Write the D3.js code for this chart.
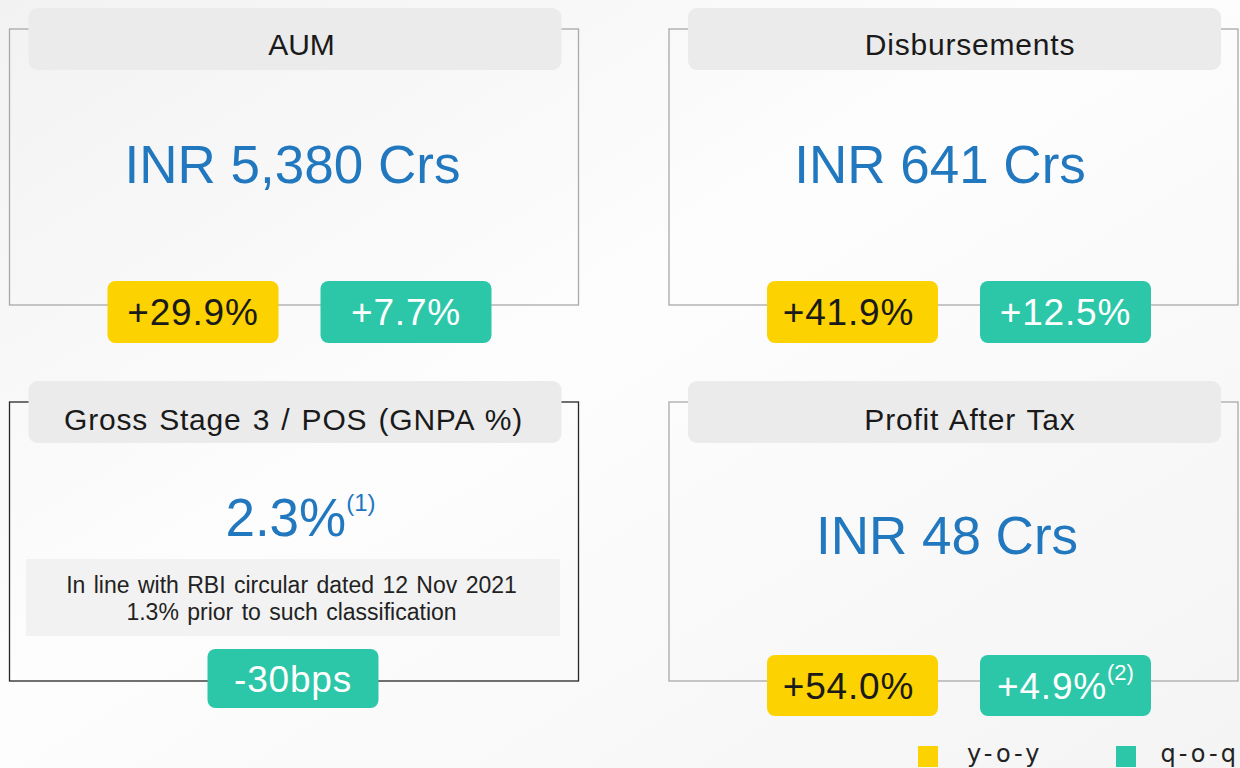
<!DOCTYPE html>
<html>
<head>
<meta charset="utf-8">
<script src="https://cdn.jsdelivr.net/npm/d3@7"></script>
<style>
  html, body { margin: 0; padding: 0; background: #fff; }
  svg { display: block; font-family: "Liberation Sans", Arial, sans-serif; }
</style>
</head>
<body>
<svg id="board"></svg>
<script>
// KPI cards data
const cardTitles = ["AUM", "Disbursements", "Gross Stage 3 / POS (GNPA %)", "Profit After Tax"];
const cardValues = ["INR 5,380 Crs", "INR 641 Crs", "2.3%", "INR 48 Crs"];
const valueNotes = ["", "", "(1)", ""];
const yoyChange = ["+29.9%", "+41.9%", null, "+54.0%"];
const qoqChange = ["+7.7%", "+12.5%", "-30bps", "+4.9%"];
const qoqNotes = ["", "", "", "(2)"];
const gnpaNote = ["In line with RBI circular dated 12 Nov 2021", "1.3% prior to such classification"];
const legendLabels = ["y-o-y", "q-o-q"];

class KpiBoard {
    constructor(_config) {
        this.config = {
            parentElement: _config.parentElement,
            containerWidth: _config.containerWidth || 1240,
            containerHeight: _config.containerHeight || 768
        }
        this.initVis();
    }

    initVis() {
        let vis = this;

        vis.svg = d3.select(vis.config.parentElement)
            .attr('width', vis.config.containerWidth)
            .attr('height', vis.config.containerHeight);

        // soft grey page background
        const defs = vis.svg.append('defs');
        const grad = defs.append('linearGradient')
            .attr('id', 'bg').attr('x1', 0).attr('y1', 0).attr('x2', 1).attr('y2', 1);
        grad.append('stop').attr('offset', '0%').attr('stop-color', '#f2f2f2');
        grad.append('stop').attr('offset', '45%').attr('stop-color', '#fdfdfd');
        grad.append('stop').attr('offset', '100%').attr('stop-color', '#f4f4f4');
        vis.svg.append('rect')
            .attr('width', vis.config.containerWidth)
            .attr('height', vis.config.containerHeight)
            .attr('fill', 'url(#bg)');

        // grid of 2 x 2 cards
        vis.xCol = d3.scaleOrdinal().domain([0, 1]).range([9.5, 669]);
        vis.yRow = d3.scaleOrdinal().domain([0, 1]).range([29, 402]);
        vis.cardW = 569;
        vis.cardH = d3.scaleOrdinal().domain([0, 1]).range([276, 279]);

        // badge positions inside a card
        vis.badgeX = d3.scaleOrdinal().domain(['yoy', 'qoq', 'single']).range([98, 311, 198]);
        vis.badgeW = 171;

        vis.colors = { yoy: '#fcd200', qoq: '#2cc7a8', value: '#2178bf' };

        vis.data = cardTitles.map((t, i) => ({
            title: t,
            value: cardValues[i],
            valueNote: valueNotes[i],
            yoy: yoyChange[i],
            qoq: qoqChange[i],
            qoqNote: qoqNotes[i],
            col: i % 2,
            row: Math.floor(i / 2),
            index: i
        }));

        vis.renderVis();
    }

    renderVis() {
        let vis = this;

        const cards = vis.svg.selectAll('.card')
            .data(vis.data)
            .enter()
            .append('g')
                .attr('class', 'card')
                .attr('transform', d => `translate(${vis.xCol(d.col)},${vis.yRow(d.row)})`);

        // outline box (GNPA card has a dark outline)
        cards.append('rect')
            .attr('width', vis.cardW)
            .attr('height', d => vis.cardH(d.row))
            .attr('fill', 'none')
            .attr('stroke', d => d.index === 2 ? '#262626' : '#a9a9a9')
            .attr('stroke-width', 1.3);

        // title pill
        cards.append('rect')
            .attr('x', 19)
            .attr('y', -21)
            .attr('width', 533)
            .attr('height', 62)
            .attr('rx', 9)
            .attr('fill', '#ebebeb');

        cards.append('text')
            .attr('x', d => d.col === 0 ? (d.row === 0 ? 292 : 284) : 301)
            .attr('y', d => d.row === 0 ? 26 : 27.5)
            .attr('text-anchor', 'middle')
            .attr('font-size', 30)
            .attr('letter-spacing', d => d.index === 0 ? 0 : 0.8)
            .attr('word-spacing', 2)
            .attr('fill', '#1a1a1a')
            .text(d => d.title);

        // main value
        const val = cards.append('text')
            .attr('x', d => d.index === 2 ? 291 : (d.col === 0 ? 283 : d.row === 0 ? 271 : 278))
            .attr('y', d => d.index === 0 ? 154 : d.index === 1 ? 154 : d.index === 2 ? 134 : 152)
            .attr('text-anchor', 'middle')
            .attr('font-size', 53)
            .attr('fill', vis.colors.value);
        val.append('tspan').text(d => d.value);
        val.filter(d => d.valueNote)
            .append('tspan')
                .attr('font-size', 24)
                .attr('dy', -25)
                .text(d => d.valueNote);

        // note box under GNPA value
        const note = cards.filter(d => d.index === 2);
        note.append('rect')
            .attr('x', 16.5)
            .attr('y', 157)
            .attr('width', 534)
            .attr('height', 77)
            .attr('fill', '#f2f2f2');
        note.selectAll('.noteLine')
            .data(gnpaNote)
            .enter()
            .append('text')
                .attr('class', 'noteLine')
                .attr('x', 282)
                .attr('y', (d, i) => 191 + i * 27)
                .attr('text-anchor', 'middle')
                .attr('font-size', 23)
                .attr('word-spacing', 2)
                .attr('fill', '#222')
                .text(d => d);

        // change badges
        const badgeY = d => d.index === 2 ? vis.cardH(d.row) - 32 : (d.row === 0 ? vis.cardH(d.row) - 24 : vis.cardH(d.row) - 26);
        const badgeH = d => d.index === 2 ? 59 : (d.row === 0 ? 62 : 61);

        const yoyCards = cards.filter(d => d.yoy);
        yoyCards.append('rect')
            .attr('x', vis.badgeX('yoy'))
            .attr('y', badgeY)
            .attr('width', vis.badgeW)
            .attr('height', badgeH)
            .attr('rx', 8)
            .attr('fill', vis.colors.yoy);
        yoyCards.append('text')
            .attr('x', d => vis.badgeX('yoy') + vis.badgeW / 2 - (d.col === 1 ? 4 : 0))
            .attr('y', d => badgeY(d) + badgeH(d) / 2 + 13)
            .attr('text-anchor', 'middle')
            .attr('font-size', 37)
            .attr('letter-spacing', 0.8)
            .attr('fill', '#1a1a1a')
            .text(d => d.yoy);

        const qx = d => d.yoy ? vis.badgeX('qoq') : vis.badgeX('single');
        cards.append('rect')
            .attr('x', qx)
            .attr('y', badgeY)
            .attr('width', vis.badgeW)
            .attr('height', badgeH)
            .attr('rx', 8)
            .attr('fill', vis.colors.qoq);
        const qText = cards.append('text')
            .attr('x', d => qx(d) + vis.badgeW / 2)
            .attr('y', d => badgeY(d) + badgeH(d) / 2 + 13)
            .attr('text-anchor', 'middle')
            .attr('font-size', 37)
            .attr('letter-spacing', 0.8)
            .attr('fill', '#ffffff');
        qText.append('tspan').text(d => d.qoq);
        qText.filter(d => d.qoqNote)
            .append('tspan')
                .attr('font-size', 22)
                .attr('letter-spacing', 0)
                .attr('dy', -19)
                .text(d => d.qoqNote);

        // legend
        const legendX = d3.scaleOrdinal().domain(legendLabels).range([918, 1116]);
        const legend = vis.svg.selectAll('.legend')
            .data(legendLabels)
            .enter()
            .append('g')
                .attr('class', 'legend')
                .attr('transform', d => `translate(${legendX(d)},746)`);
        legend.append('rect')
            .attr('width', 20)
            .attr('height', 21)
            .attr('fill', (d, i) => i === 0 ? vis.colors.yoy : vis.colors.qoq);
        legend.append('text')
            .attr('x', (d, i) => i === 0 ? 49 : 44.5)
            .attr('y', 16)
            .attr('font-family', '"DejaVu Sans", sans-serif')
            .attr('font-size', 24)
            .attr('letter-spacing', 3)
            .attr('fill', '#222')
            .text(d => d);
    }
}

new KpiBoard({ parentElement: '#board' });
</script>
</body>
</html>
